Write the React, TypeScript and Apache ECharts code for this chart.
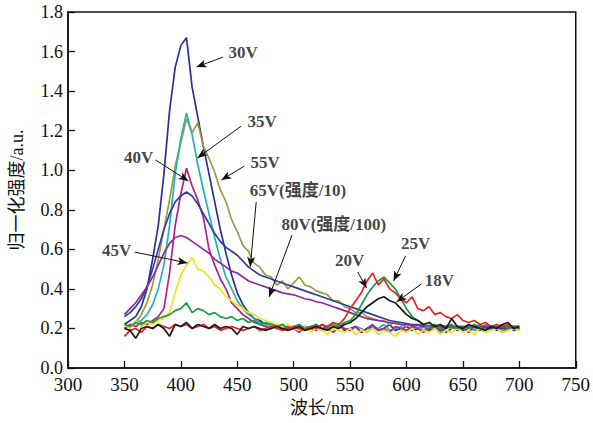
import React, { useEffect, useRef } from "react";
import * as echarts from "echarts";

const wavelengths = [
  350, 355, 360, 365, 370, 375, 380, 385, 390, 395,
  400, 405, 410, 415, 420, 425, 430, 435, 440, 445,
  450, 455, 460, 465, 470, 475, 480, 485, 490, 495,
  500, 505, 510, 515, 520, 525, 530, 535, 540, 545,
  550, 555, 560, 565, 570, 575, 580, 585, 590, 595,
  600, 605, 610, 615, 620, 625, 630, 635, 640, 645,
  650, 655, 660, 665, 670, 675, 680, 685, 690, 695,
  700,
];

const s30V = [
  0.22, 0.24, 0.26, 0.31, 0.4, 0.55, 0.72, 0.98, 1.3, 1.52,
  1.63, 1.67, 1.42, 1.27, 1.12, 0.98, 0.84, 0.7, 0.58, 0.47,
  0.38, 0.32, 0.28, 0.25, 0.24, 0.22, 0.23, 0.21, 0.22, 0.2,
  0.21, 0.19, 0.21, 0.2, 0.22, 0.19, 0.21, 0.2, 0.22, 0.19,
  0.2, 0.21, 0.18, 0.2, 0.21, 0.19, 0.2, 0.22, 0.19, 0.2,
  0.21, 0.19, 0.2, 0.21, 0.19, 0.2, 0.21, 0.18, 0.2, 0.21,
  0.19, 0.2, 0.21, 0.19, 0.2, 0.21, 0.19, 0.2, 0.21, 0.19,
  0.2,
];
const s35V = [
  0.22, 0.21, 0.23, 0.24, 0.27, 0.32, 0.4, 0.52, 0.72, 0.98,
  1.16, 1.29, 1.18, 1.03, 0.9, 0.78, 0.66, 0.55, 0.46, 0.4,
  0.34, 0.3, 0.27, 0.25, 0.23, 0.22, 0.21, 0.22, 0.2, 0.21,
  0.2, 0.22, 0.19, 0.21, 0.2, 0.19, 0.21, 0.2, 0.22, 0.2,
  0.19, 0.21, 0.2, 0.18, 0.21, 0.2, 0.22, 0.19, 0.2, 0.21,
  0.19, 0.2, 0.22, 0.19, 0.2, 0.21, 0.18, 0.2, 0.21, 0.19,
  0.2, 0.21, 0.19, 0.22, 0.2, 0.19, 0.21, 0.2, 0.19, 0.21,
  0.2,
];
const s55V = [
  0.2, 0.21, 0.23, 0.27, 0.33, 0.42, 0.55, 0.7, 0.85, 1.02,
  1.14, 1.26, 1.19, 1.24, 1.12, 1.06, 0.99, 0.9, 0.84, 0.75,
  0.69, 0.62, 0.59, 0.53, 0.51, 0.47, 0.46, 0.42, 0.44, 0.4,
  0.43, 0.46, 0.42, 0.41, 0.39, 0.38, 0.37, 0.34, 0.34, 0.31,
  0.3, 0.28, 0.28, 0.26, 0.25, 0.24, 0.24, 0.22, 0.23, 0.22,
  0.21, 0.22, 0.2, 0.21, 0.2, 0.22, 0.19, 0.21, 0.2, 0.21,
  0.2, 0.21, 0.19, 0.2, 0.22, 0.2, 0.21, 0.19, 0.2, 0.21,
  0.21,
];
const s40V = [
  0.2, 0.22, 0.21, 0.23, 0.22, 0.24, 0.26, 0.3, 0.48, 0.72,
  0.88, 1.01, 0.92, 0.85, 0.76, 0.6, 0.52, 0.45, 0.4, 0.33,
  0.3, 0.27, 0.25, 0.23, 0.22, 0.21, 0.2, 0.22, 0.19, 0.21,
  0.2, 0.18, 0.21, 0.2, 0.19, 0.22, 0.2, 0.18, 0.21, 0.2,
  0.19, 0.21, 0.18, 0.2, 0.22, 0.19, 0.2, 0.18, 0.21, 0.2,
  0.19, 0.21, 0.2, 0.18, 0.2, 0.21, 0.19, 0.2, 0.22, 0.19,
  0.2, 0.18, 0.21, 0.2, 0.19, 0.21, 0.2, 0.18, 0.2, 0.21,
  0.19,
];
const s65V = [
  0.26, 0.28, 0.31, 0.35, 0.41, 0.5, 0.6, 0.7, 0.78, 0.84,
  0.87, 0.89, 0.87, 0.83, 0.78, 0.73, 0.68, 0.64, 0.61, 0.59,
  0.57, 0.54, 0.51, 0.49, 0.47, 0.46, 0.45, 0.44, 0.43, 0.42,
  0.41, 0.4, 0.39, 0.38, 0.37, 0.36, 0.35, 0.34, 0.33, 0.32,
  0.31, 0.3, 0.29, 0.28, 0.27, 0.26, 0.25, 0.24, 0.235, 0.23,
  0.225, 0.22, 0.22, 0.215, 0.215, 0.21, 0.21, 0.21, 0.21, 0.205,
  0.205, 0.205, 0.205, 0.205, 0.205, 0.2, 0.2, 0.2, 0.2, 0.2,
  0.2,
];
const s80V = [
  0.27, 0.3, 0.33, 0.37, 0.41, 0.46, 0.52, 0.58, 0.63, 0.66,
  0.67, 0.66, 0.64, 0.62, 0.6, 0.58, 0.55, 0.53, 0.51, 0.49,
  0.48, 0.46, 0.44, 0.43, 0.42, 0.41, 0.4, 0.39, 0.38, 0.375,
  0.37, 0.36, 0.35, 0.345, 0.335, 0.33, 0.32, 0.31, 0.3, 0.29,
  0.28, 0.27, 0.26, 0.25, 0.245, 0.24, 0.235, 0.23, 0.225, 0.22,
  0.22, 0.215, 0.215, 0.21, 0.21, 0.21, 0.21, 0.21, 0.21, 0.21,
  0.21, 0.21, 0.21, 0.21, 0.21, 0.21, 0.21, 0.21, 0.21, 0.21,
  0.21,
];
const s45V = [
  0.22, 0.2, 0.24, 0.21, 0.23, 0.22, 0.24, 0.25, 0.28, 0.38,
  0.47, 0.52, 0.56, 0.5, 0.49, 0.46, 0.42, 0.4, 0.36, 0.34,
  0.32, 0.3, 0.28, 0.27, 0.25, 0.24, 0.23, 0.22, 0.21, 0.22,
  0.2, 0.19, 0.21, 0.18, 0.2, 0.19, 0.17, 0.2, 0.19, 0.18,
  0.2, 0.17, 0.19, 0.18, 0.2, 0.17, 0.19, 0.18, 0.16, 0.19,
  0.18, 0.2, 0.17, 0.19, 0.18, 0.2, 0.17, 0.19, 0.18, 0.2,
  0.18, 0.19, 0.17, 0.2, 0.18, 0.19, 0.2, 0.18, 0.19, 0.2,
  0.19,
];
const s25V = [
  0.22, 0.21, 0.23, 0.22, 0.24, 0.23, 0.25, 0.26, 0.27, 0.29,
  0.3, 0.33, 0.28, 0.3, 0.29, 0.27, 0.28, 0.26, 0.25, 0.26,
  0.24, 0.25, 0.23, 0.24, 0.22, 0.23, 0.22, 0.21, 0.22, 0.2,
  0.21, 0.22, 0.2, 0.21, 0.22, 0.2, 0.21, 0.22, 0.21, 0.23,
  0.24, 0.27, 0.32, 0.37, 0.41, 0.44, 0.46, 0.43, 0.4, 0.35,
  0.3, 0.26, 0.24, 0.22, 0.21, 0.22, 0.2, 0.21, 0.22, 0.2,
  0.21, 0.2, 0.22, 0.21, 0.19, 0.21, 0.2, 0.22, 0.2, 0.21,
  0.2,
];
const s20V = [
  0.16, 0.19, 0.2, 0.18, 0.21, 0.2, 0.22, 0.21, 0.2, 0.22,
  0.21, 0.22, 0.2, 0.21, 0.22, 0.2, 0.21, 0.19, 0.2, 0.21,
  0.2, 0.19, 0.2, 0.21, 0.19, 0.2, 0.21, 0.2, 0.19, 0.2,
  0.21, 0.2, 0.19, 0.21, 0.2, 0.22, 0.21, 0.23, 0.22, 0.25,
  0.3, 0.34, 0.38, 0.44, 0.48, 0.42, 0.45, 0.4, 0.38, 0.35,
  0.33, 0.36, 0.3, 0.29, 0.31, 0.27, 0.28, 0.26, 0.25, 0.27,
  0.24, 0.23, 0.24, 0.22, 0.23, 0.21, 0.22, 0.21, 0.22, 0.2,
  0.21,
];
const s18V = [
  0.2, 0.19, 0.15, 0.2, 0.21, 0.2, 0.22, 0.2, 0.16, 0.22,
  0.21, 0.23, 0.2, 0.22, 0.21, 0.2, 0.22, 0.2, 0.21, 0.2,
  0.17, 0.21, 0.2, 0.21, 0.2, 0.19, 0.2, 0.21, 0.2, 0.19,
  0.2, 0.21, 0.19, 0.2, 0.21, 0.2, 0.19, 0.21, 0.2, 0.22,
  0.23, 0.25, 0.28, 0.31, 0.33, 0.35, 0.36, 0.34, 0.33, 0.3,
  0.27, 0.25, 0.24, 0.22, 0.23, 0.21, 0.22, 0.2, 0.25, 0.21,
  0.2, 0.22, 0.21, 0.2, 0.19, 0.21, 0.2, 0.22, 0.23, 0.2,
  0.21,
];

const seriesDefs = [
  { name: "30V", values: s30V, color: "#2b2f96" },
  { name: "55V", values: s55V, color: "#a39a3f" },
  { name: "35V", values: s35V, color: "#1fb3b8" },
  { name: "40V", values: s40V, color: "#b3208e" },
  { name: "65V", values: s65V, color: "#2f3fa3" },
  { name: "80V", values: s80V, color: "#8e2aa8" },
  { name: "45V", values: s45V, color: "#f2e41a" },
  { name: "25V", values: s25V, color: "#14a03f" },
  { name: "20V", values: s20V, color: "#e8231f" },
  { name: "18V", values: s18V, color: "#1a1a1a" },
];

// Annotation labels and arrows, in data coordinates (wavelength, intensity)
const annotations = [
  { text: "30V", at: [455.3, 1.593], from: [437.6, 1.572], to: [413.8, 1.522] },
  { text: "35V", at: [472, 1.244], from: [453.5, 1.223], to: [414.7, 1.062] },
  { text: "55V", at: [474.7, 1.041], from: [456.2, 1.021], to: [435.9, 0.95] },
  { text: "40V", at: [362.6, 1.062], from: [377.6, 1.052], to: [406.8, 0.945] },
  { text: "65V(强度/10)", at: [503.8, 0.9], from: [466.8, 0.839], to: [461.5, 0.511] },
  { text: "80V(强度/100)", at: [535.6, 0.728], from: [498.5, 0.672], to: [478.2, 0.359] },
  { text: "45V", at: [343.2, 0.592], from: [359.1, 0.586], to: [405.9, 0.531] },
  { text: "20V", at: [549.7, 0.546], from: [556.8, 0.485], to: [564.7, 0.404] },
  { text: "25V", at: [608, 0.627], from: [599.1, 0.566], to: [588.5, 0.44] },
  { text: "18V", at: [629.1, 0.44], from: [613.2, 0.425], to: [591.2, 0.334] },
];

const serif = '"Liberation Serif", "Times New Roman", "Noto Sans CJK SC", serif';

export default function App() {
  const ref = useRef<HTMLDivElement>(null);
  useEffect(() => {
    if (!ref.current) return;
    const chart = echarts.init(ref.current, null, { renderer: "svg" });
    const lineSeries = seriesDefs.map((s) => ({
      name: s.name,
      type: "line",
      data: wavelengths.map((w, i) => [w, s.values[i]]),
      showSymbol: false,
      symbol: "none",
      lineStyle: { color: s.color, width: 1.7 },
      itemStyle: { color: s.color },
      silent: true,
    }));
    const annoSeries = {
      type: "scatter",
      symbolSize: 0,
      silent: true,
      z: 10,
      data: annotations.map((a) => [a.at[0], a.at[1], a.text]),
      label: {
        show: true,
        position: "inside",
        formatter: (p: any) => p.data[2],
        fontFamily: serif,
        fontSize: 17,
        fontWeight: "bold",
        color: "#111",
      },
      markLine: {
        silent: true,
        animation: false,
        symbol: ["none", "arrow"],
        symbolSize: [6, 10],
        label: { show: false },
        lineStyle: { color: "#111", width: 1, type: "solid" },
        data: annotations.map((a) => [{ coord: a.from }, { coord: a.to }]),
      },
    };
    chart.setOption({
      animation: false,
      backgroundColor: "#fff",
      grid: {
        left: 68,
        right: 15,
        top: 12,
        bottom: 55,
        show: true,
        borderColor: "#111",
        borderWidth: 1.5,
        backgroundColor: "transparent",
      },
      xAxis: {
        type: "value",
        min: 300,
        max: 750,
        interval: 50,
        name: "波长/nm",
        nameLocation: "middle",
        nameGap: 31,
        nameTextStyle: { fontFamily: serif, fontSize: 18, color: "#111" },
        axisLine: { show: true, lineStyle: { color: "#111", width: 1.6 } },
        axisTick: { show: true, inside: true, length: 7, lineStyle: { color: "#111", width: 1.3 } },
        axisLabel: { fontFamily: serif, fontSize: 19, lineHeight: 16, color: "#111", margin: 8 },
        splitLine: { show: false },
      },
      yAxis: {
        type: "value",
        min: 0,
        max: 1.8,
        interval: 0.2,
        name: "归一化强度/a.u.",
        nameLocation: "middle",
        nameGap: 42,
        nameTextStyle: { fontFamily: serif, fontSize: 18, color: "#111" },
        axisLine: { show: true, lineStyle: { color: "#111", width: 1.6 } },
        axisTick: { show: true, inside: true, length: 7, lineStyle: { color: "#111", width: 1.3 } },
        axisLabel: {
          fontFamily: serif,
          fontSize: 18,
          lineHeight: 15,
          color: "#111",
          margin: 5,
          formatter: (v: number) => v.toFixed(1),
        },
        splitLine: { show: false },
      },
      series: [...lineSeries, annoSeries],
    });
    return () => chart.dispose();
  }, []);
  return (
    <div
      ref={ref}
      style={{ position: "fixed", left: 0, top: 0, width: 593, height: 423, background: "#fff" }}
    />
  );
}
